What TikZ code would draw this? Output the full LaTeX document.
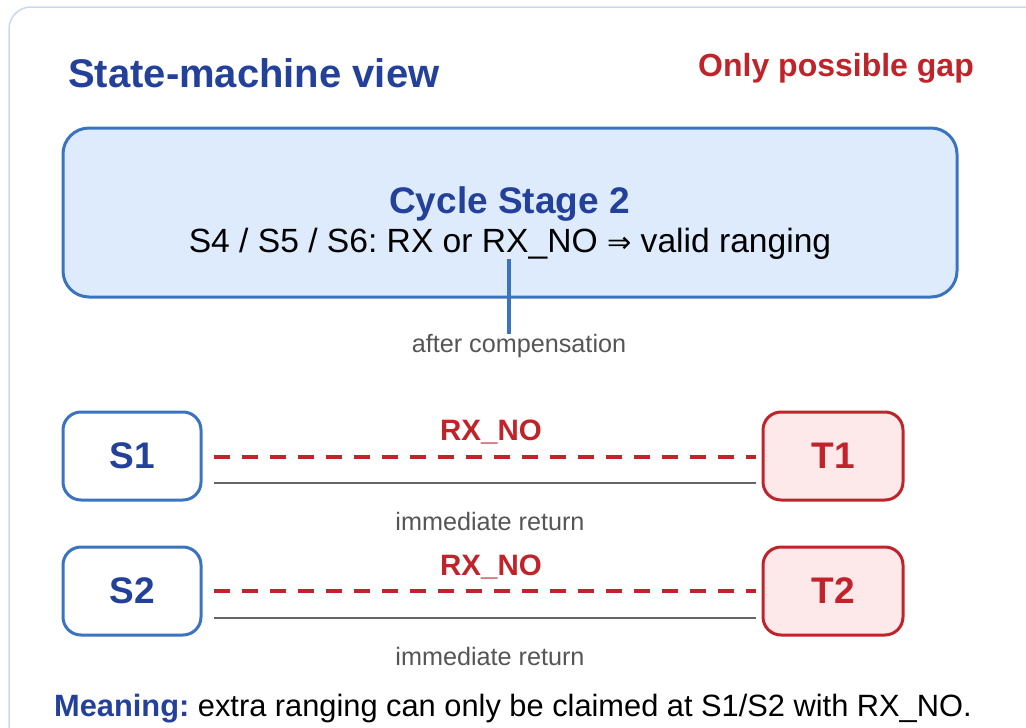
\documentclass[tikz,border=0pt]{standalone}
\usepackage{fontspec}
\setmainfont{Liberation Sans}
\newfontfamily\symfont{DejaVu Sans}
\frenchspacing
\definecolor{inkblue}{HTML}{23409A}
\definecolor{edgeblue}{HTML}{3A74C0}
\definecolor{fillblue}{HTML}{DDEBFC}
\definecolor{alertred}{HTML}{C0242A}
\definecolor{fillred}{HTML}{FDE8EA}
\definecolor{muted}{HTML}{555555}
\definecolor{rulegray}{HTML}{666666}
\definecolor{framecol}{HTML}{C9D9F2}
\newcommand{\fs}[1]{\fontsize{#1}{#1}\selectfont}
\tikzset{
  txt/.style={inner sep=0pt, anchor=base},
  heading/.style={txt, font=\fs{40}\bfseries, text=inkblue},
  note/.style={txt, font=\fs{25.2}, text=muted},
  gaplabel/.style={txt, font=\fs{29.5}\bfseries, text=alertred},
  srcstate/.style={draw=edgeblue, line width=3pt, fill=white, rounded corners=18pt,
    minimum width=138pt, minimum height=88pt, font=\fs{37}\bfseries, text=inkblue},
  tgtstate/.style={draw=alertred, line width=3pt, fill=fillred, rounded corners=18pt,
    minimum width=140pt, minimum height=88pt, font=\fs{37}\bfseries, text=alertred},
  gapline/.style={draw=alertred, line width=3.5pt, dash pattern=on 16pt off 12pt},
  returnline/.style={draw=rulegray, line width=2.5pt},
}
\begin{document}
\begin{tikzpicture}[x=1pt,y=-1pt]
\useasboundingbox (0,0) rectangle (1026,728);
\clip (0,0) rectangle (1026,728);
% outer panel
\draw[framecol, line width=1.5pt, rounded corners=22pt] (9,7) rectangle (1045,750);
% headings
\node[heading, anchor=base west] (title) at (68,87) {State-machine view};
\node[txt, anchor=base west, font=\fs{32}\bfseries, text=alertred] (gap) at (698,76) {Only possible gap};
% cycle stage box
\node[draw=edgeblue, line width=3pt, fill=fillblue, rounded corners=26pt,
  minimum width=894pt, minimum height=169pt, inner sep=0pt] (stage) at (510,212.5) {};
\node[txt, font=\fs{37}\bfseries, text=inkblue] (stagetitle) at (509.5,213) {Cycle Stage 2};
\node[txt, font=\fs{33.6}, text=black] (stagerule) at (510,252)
  {S4 / S5 / S6: RX or RX\_NO {\symfont\fs{29}⇒} valid ranging};
\node[note] (comp) at (519,352) {after compensation};
\draw[edgeblue, line width=4pt] ([xshift=-1pt]stagerule.south) -- ([xshift=-1pt]stagerule.south |- comp.north);
% states
\node[srcstate] (s1) at (132,456) {S1};
\node[tgtstate] (t1) at (833,456) {T1};
\node[srcstate] (s2) at (132,591) {S2};
\node[tgtstate] (t2) at (833,591) {T2};
% gaps and returns
\draw[gapline] ([xshift=11pt,yshift=-1pt]s1.east) -- ([xshift=-6pt,yshift=-1pt]t1.west);
\draw[returnline] ([xshift=11pt,yshift=-27pt]s1.east) -- ([xshift=-6pt,yshift=-27pt]t1.west);
\node[gaplabel] (g1) at (491,440) {RX\_NO};
\node[note] (r1) at (490,530) {immediate return};
\draw[gapline] ([xshift=11pt]s2.east) -- ([xshift=-6pt]t2.west);
\draw[returnline] ([xshift=11pt,yshift=-27pt]s2.east) -- ([xshift=-6pt,yshift=-27pt]t2.west);
\node[gaplabel] (g2) at (491,575) {RX\_NO};
\node[note] (r2) at (490,665) {immediate return};
% footnote
\node[txt, anchor=base west, font=\fs{30.8}] (meaning) at (54,716)
  {\textcolor{inkblue}{\bfseries Meaning:} extra ranging can only be claimed at S1/S2 with RX\_NO.};
\end{tikzpicture}
\end{document}
